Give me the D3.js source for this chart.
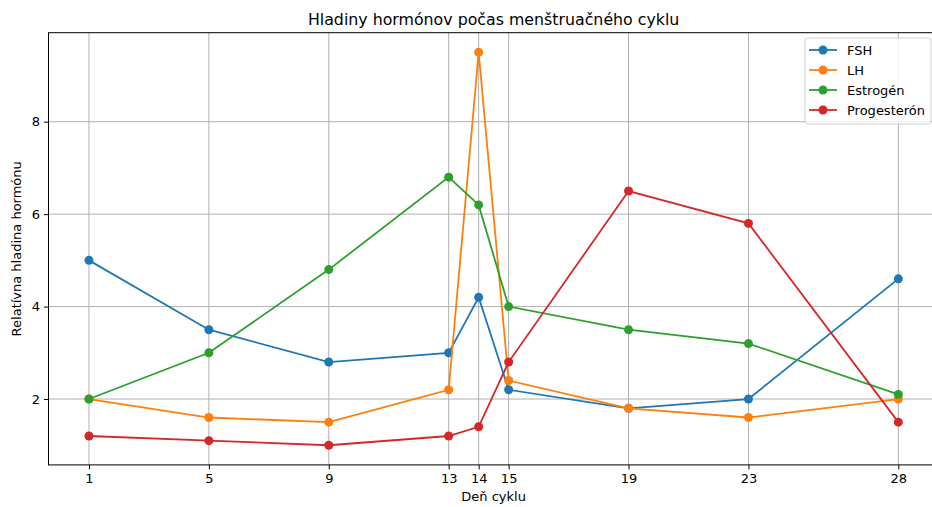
<!DOCTYPE html>
<html>
<head>
    <script src="https://d3js.org/d3.v7.min.js"></script>
    <style>
        body { margin: 0; background: white; }
        text { font-family: "DejaVu Sans", sans-serif; fill: #000; }
        .grid line { stroke: #b0b0b0; stroke-width: 1; }
        .axis path, .axis line { stroke: #000; }
    </style>
</head>
<body>
    <script>
        // days of the cycle and hormone levels
        const days = [1, 5, 9, 13, 14, 15, 19, 23, 28];
        const fsh = [5.0, 3.5, 2.8, 3.0, 4.2, 2.2, 1.8, 2.0, 4.6];
        const lh = [2.0, 1.6, 1.5, 2.2, 9.5, 2.4, 1.8, 1.6, 2.0];
        const estrogen = [2.0, 3.0, 4.8, 6.8, 6.2, 4.0, 3.5, 3.2, 2.1];
        const progesteron = [1.2, 1.1, 1.0, 1.2, 1.4, 2.8, 6.5, 5.8, 1.5];
        const seriesNames = ['FSH', 'LH', 'Estrogén', 'Progesterón'];
        const yTicks = [2, 4, 6, 8];

        const colors = ['#1f77b4', '#ff7f0e', '#2ca02c', '#d62728'];
        const series = [fsh, lh, estrogen, progesteron].map((vals, i) => ({
            name: seriesNames[i], color: colors[i],
            points: vals.map((v, j) => ({ day: days[j], v: v }))
        }));

        const width = 932, height = 507;
        const pLeft = 48.5, pRight = 938.8, pTop = 32.7, pBottom = 464.9;

        const svg = d3.select('body').append('svg')
            .attr('width', width)
            .attr('height', height);

        // matplotlib-like 5% margins
        const xPad = (28 - 1) * 0.05, yPad = (9.5 - 1.0) * 0.05;
        const x = d3.scaleLinear().domain([1 - xPad, 28 + xPad]).range([pLeft, pRight]);
        const y = d3.scaleLinear().domain([1.0 - yPad, 9.5 + yPad]).range([pBottom, pTop]);

        // grid
        const grid = svg.append('g').attr('class', 'grid');
        grid.selectAll('.gx').data(days).enter().append('line')
            .attr('x1', d => x(d)).attr('x2', d => x(d))
            .attr('y1', pTop).attr('y2', pBottom);
        grid.selectAll('.gy').data(yTicks).enter().append('line')
            .attr('x1', pLeft).attr('x2', pRight)
            .attr('y1', d => y(d)).attr('y2', d => y(d));

        // axes
        svg.append('g').attr('class', 'axis')
            .attr('transform', `translate(0,${pBottom})`)
            .call(d3.axisBottom(x).tickValues(days).tickSize(4.5).tickPadding(4).tickFormat(d3.format('d')));
        svg.append('g').attr('class', 'axis')
            .attr('transform', `translate(${pLeft},0)`)
            .call(d3.axisLeft(y).tickValues(yTicks).tickSize(4.5).tickPadding(4).tickFormat(d3.format('d')));
        svg.selectAll('.axis path').remove();
        svg.selectAll('.axis text').style('font-size', '13px').style('font-family', '"DejaVu Sans", sans-serif');

        // lines and markers
        const line = d3.line().x(d => x(d.day)).y(d => y(d.v));
        series.forEach(s => {
            svg.append('path')
                .datum(s.points)
                .attr('fill', 'none')
                .attr('stroke', s.color)
                .attr('stroke-width', 1.8)
                .attr('d', line);
            svg.append('g').selectAll('circle')
                .data(s.points)
                .enter().append('circle')
                .attr('cx', d => x(d.day))
                .attr('cy', d => y(d.v))
                .attr('r', 4.5)
                .attr('fill', s.color);
        });

        // frame
        svg.append('rect')
            .attr('x', pLeft).attr('y', pTop)
            .attr('width', pRight - pLeft).attr('height', pBottom - pTop)
            .attr('fill', 'none').attr('stroke', '#000').attr('stroke-width', 1);

        // titles
        svg.append('text')
            .attr('x', (pLeft + pRight) / 2).attr('y', 25)
            .attr('text-anchor', 'middle')
            .style('font-size', '15.8px')
            .text('Hladiny hormónov počas menštruačného cyklu');
        svg.append('text')
            .attr('x', (pLeft + pRight) / 2).attr('y', 501)
            .attr('text-anchor', 'middle')
            .style('font-size', '13px')
            .text('Deň cyklu');
        svg.append('text')
            .attr('transform', `translate(21,${(pTop + pBottom) / 2}) rotate(-90)`)
            .attr('text-anchor', 'middle')
            .style('font-size', '13px')
            .text('Relatívna hladina hormónu');

        // legend
        const lg = svg.append('g').attr('transform', 'translate(805,38)');
        lg.append('rect')
            .attr('width', 126).attr('height', 86).attr('rx', 3)
            .attr('fill', 'white').attr('fill-opacity', 0.8)
            .attr('stroke', '#d0d0d0');
        series.forEach((s, i) => {
            const yy = 12 + i * 20;
            lg.append('line')
                .attr('x1', 4).attr('x2', 32).attr('y1', yy).attr('y2', yy)
                .attr('stroke', s.color).attr('stroke-width', 1.8);
            lg.append('circle').attr('cx', 18).attr('cy', yy).attr('r', 4.5).attr('fill', s.color);
            lg.append('text')
                .attr('x', 42).attr('y', yy + 4.8)
                .style('font-size', '13px')
                .text(s.name);
        });
    </script>
</body>
</html>
